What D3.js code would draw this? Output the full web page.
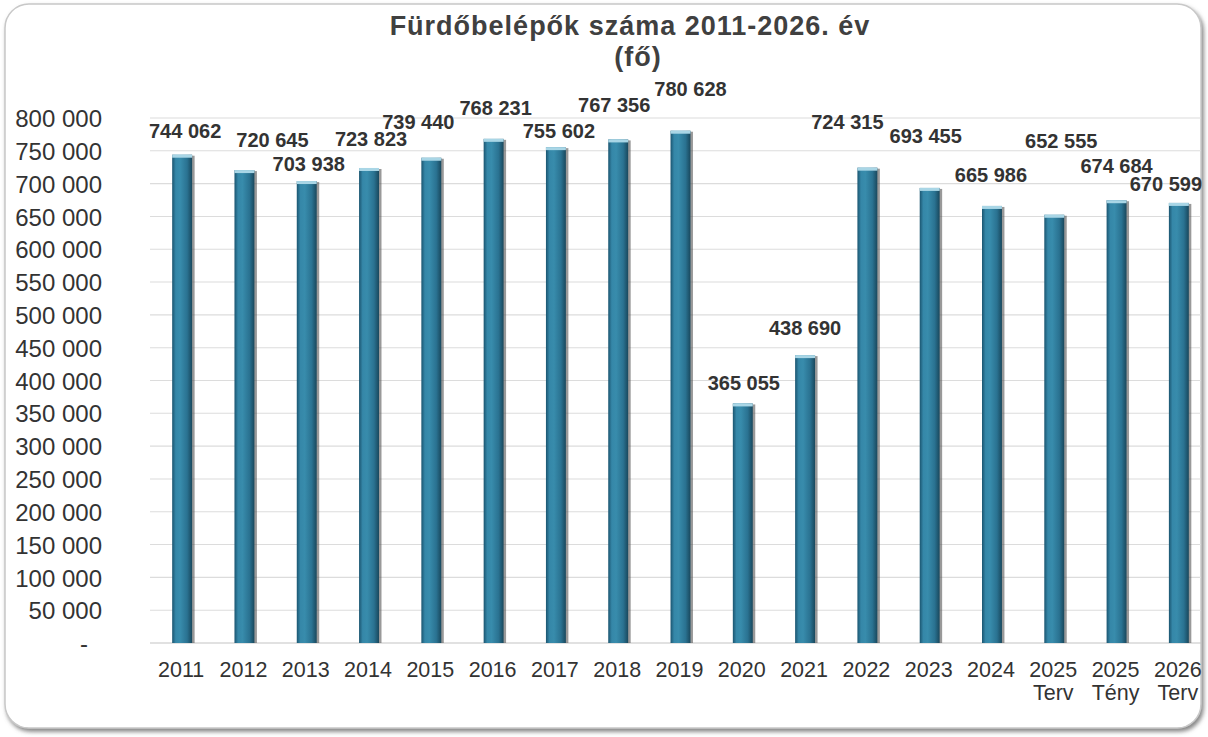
<!DOCTYPE html>
<html>
<head>
<meta charset="utf-8">
<script src="https://cdn.jsdelivr.net/npm/d3@7"></script>
<style>
  body { margin: 0; background: #fff; }
  svg { display: block; font-family: "Liberation Sans", Arial, sans-serif; }
</style>
</head>
<body>
<script>
// kategóriák és értékek
const years = ["2011", "2012", "2013", "2014", "2015", "2016", "2017", "2018", "2019",
  "2020", "2021", "2022", "2023", "2024", "2025 Terv", "2025 Tény", "2026 Terv"];
const visitors = [744062, 720645, 703938, 723823, 739440, 768231, 755602, 767356, 780628,
  365055, 438690, 724315, 693455, 665986, 652555, 674684, 670599];
const yTicks = [0, 50000, 100000, 150000, 200000, 250000, 300000, 350000, 400000,
  450000, 500000, 550000, 600000, 650000, 700000, 750000, 800000];

// címkék kézi eltolása (px), ahogy az eredeti diagramon
const labelDx = [3, 28, 2, 2, -13, 2, 3, -4, 10, 1, 0, -20, -4, -1, 7, 0, -13];
const labelDy = [-24, -30, -17, -29, -36, -31, -16, -35, -42, -21, -27, -46, -52, -31, -74, -34, -19];

const width = 1208, height = 737;
const plot = { left: 151, right: 1210, top: 118, bottom: 643 };

const svg = d3.select("body").append("svg")
  .attr("width", width)
  .attr("height", height);

const defs = svg.append("defs");

// henger-szerű oszlop színátmenet
const grad = defs.append("linearGradient").attr("id", "barGrad")
  .attr("x1", "0%").attr("x2", "100%").attr("y1", "0%").attr("y2", "0%");
[["0%", "#1b5570"], ["18%", "#3587a8"], ["40%", "#388cac"], ["75%", "#2a7291"], ["100%", "#19485d"]]
  .forEach(([o, c]) => grad.append("stop").attr("offset", o).attr("stop-color", c));

const shadow = defs.append("filter").attr("id", "frameShadow")
  .attr("x", "-5%").attr("y", "-5%").attr("width", "110%").attr("height", "110%");
shadow.append("feDropShadow").attr("dx", 2).attr("dy", 3).attr("stdDeviation", 2)
  .attr("flood-color", "#666").attr("flood-opacity", 0.8);

// keret
svg.append("rect")
  .attr("x", 5).attr("y", 4)
  .attr("width", 1196).attr("height", 724)
  .attr("rx", 24)
  .attr("fill", "#fff")
  .attr("stroke", "#c8c8c8")
  .attr("stroke-width", 1.5)
  .attr("filter", "url(#frameShadow)");

// skálák
const x = d3.scaleBand()
  .domain(years)
  .range([plot.left, plot.right])
  .paddingInner(0.68)
  .paddingOuter(0.34);

const y = d3.scaleLinear()
  .domain([0, 800000])
  .range([plot.bottom, plot.top]);

// rácsvonalak
svg.append("g")
  .selectAll("line")
  .data(yTicks)
  .join("line")
  .attr("x1", plot.left - 1)
  .attr("x2", 1201)
  .attr("y1", (d) => y(d))
  .attr("y2", (d) => y(d))
  .attr("stroke", (d) => (d === 0 ? "#c4c4c4" : "#dcdcdc"))
  .attr("stroke-width", 1.1);

// Y tengely
const fmt = (d) => (d === 0 ? "-" : d3.format(",")(d).replace(/,/g, " "));
const yAxis = svg.append("g")
  .attr("transform", `translate(102,0)`)
  .call(d3.axisLeft(y).tickValues(yTicks).tickSize(0).tickPadding(0).tickFormat(fmt));
yAxis.select(".domain").remove();
yAxis.selectAll("text")
  .attr("fill", "#333")
  .attr("font-size", 24)
  .attr("font-family", "Liberation Sans, Arial, sans-serif")
  .attr("dy", "0.36em")
  .attr("x", (d) => (d === 0 ? -14 : 0));

// X tengely (két soros címkék)
const xAxis = svg.append("g")
  .attr("transform", `translate(0,${plot.bottom})`)
  .call(d3.axisBottom(x).tickSize(0).tickPadding(0).tickFormat(""));
xAxis.select(".domain").remove();
xAxis.selectAll(".tick").each(function (d) {
  const parts = d.split(" ");
  const t = d3.select(this).append("text")
    .attr("fill", "#333")
    .attr("font-size", 21.5)
    .attr("text-anchor", "middle");
  parts.forEach((p, i) => {
    t.append("tspan").attr("x", -1).attr("y", 34 + i * 23).text(p);
  });
});

// oszlopok
const bars = svg.append("g").selectAll("g")
  .data(visitors)
  .join("g")
  .attr("transform", (d, i) => `translate(${x(years[i])},0)`);

bars.append("rect") // árnyék
  .attr("x", 1.5)
  .attr("y", (d) => y(d) + 1)
  .attr("width", x.bandwidth() + 1)
  .attr("height", (d) => plot.bottom - y(d) - 1)
  .attr("fill", "#555")
  .attr("opacity", 0.6);

bars.append("rect")
  .attr("x", 0)
  .attr("y", (d) => y(d))
  .attr("width", x.bandwidth())
  .attr("height", (d) => plot.bottom - y(d))
  .attr("fill", "url(#barGrad)");

bars.append("rect") // világos tető
  .attr("x", 0)
  .attr("y", (d) => y(d))
  .attr("width", x.bandwidth())
  .attr("height", 3)
  .attr("fill", "#a9d6e6");

// adatcímkék
svg.append("g").selectAll("text")
  .data(visitors)
  .join("text")
  .attr("x", (d, i) => x(years[i]) + x.bandwidth() / 2 + labelDx[i])
  .attr("y", (d, i) => y(d) + labelDy[i])
  .attr("dy", "0.36em")
  .attr("text-anchor", "middle")
  .attr("font-size", 20)
  .attr("font-weight", "bold")
  .attr("fill", "#333")
  .text((d) => d3.format(",")(d).replace(/,/g, " "));

// cím
const title = svg.append("g")
  .attr("text-anchor", "middle")
  .attr("font-size", 27)
  .attr("font-weight", "bold")
  .attr("letter-spacing", 1)
  .attr("fill", "#404040");
title.append("text").attr("x", 630).attr("y", 35).text("Fürdőbelépők száma 2011-2026. év");
title.append("text").attr("x", 638).attr("y", 66).text("(fő)");
</script>
</body>
</html>
